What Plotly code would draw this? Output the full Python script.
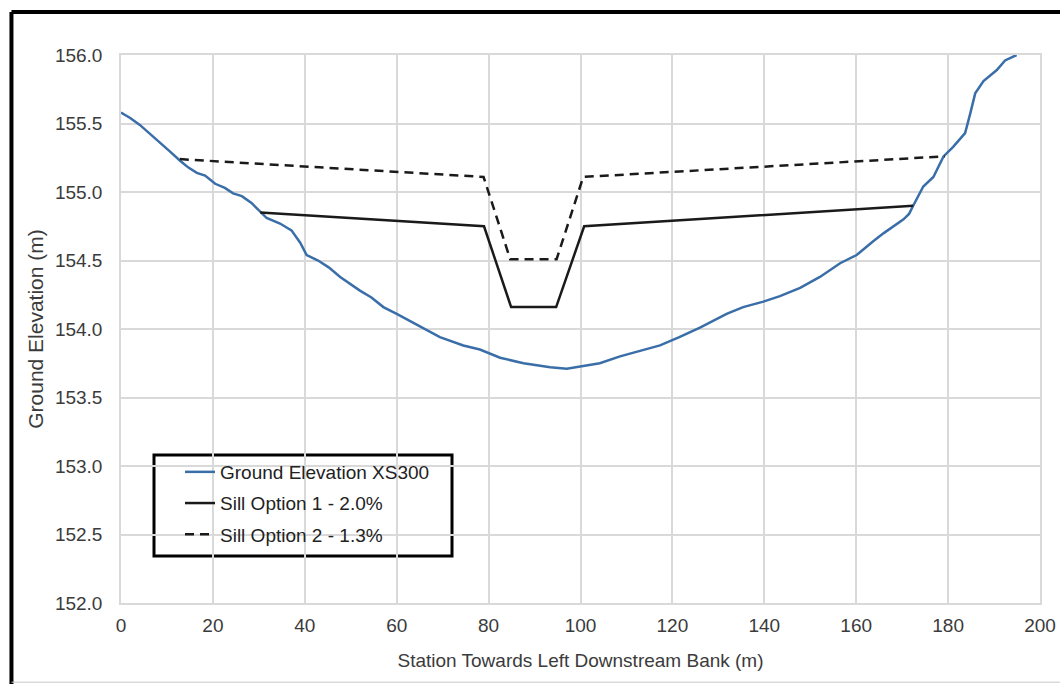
import plotly.graph_objects as go

# Ground survey along cross-section XS300
station = [0, 2.0, 4.1, 6.2, 8.1, 10.5, 12.8, 14.6, 16.5, 18.3, 20.5, 22.6, 24.4, 26.3,
           28.4, 30.3, 31.7, 34.6, 37.1, 39.0, 40.4, 42.9, 45.2, 47.7, 52.0, 54.5, 57.1,
           60.0, 64.4, 69.4, 74.5, 78.1, 82.5, 87.6, 93.4, 97.0, 100.6, 104.2, 108.6,
           113.0, 117.3, 121.5, 126.0, 131.8, 135.4, 139.8, 143.4, 147.8, 152.1, 156.5,
           160.1, 163.7, 166.0, 170.3, 171.5, 172.4, 174.6, 176.8, 179.0, 181.1, 183.7,
           184.8, 185.9, 187.7, 190.6, 192.4, 194.9]
ground = [155.58, 155.54, 155.49, 155.43, 155.37, 155.30, 155.23, 155.18, 155.14, 155.12,
          155.06, 155.03, 154.99, 154.97, 154.92, 154.86, 154.81, 154.77, 154.72, 154.63,
          154.54, 154.50, 154.45, 154.38, 154.28, 154.23, 154.16, 154.11, 154.03, 153.94,
          153.88, 153.85, 153.79, 153.75, 153.72, 153.71, 153.73, 153.75, 153.80, 153.84,
          153.88, 153.94, 154.01, 154.11, 154.16, 154.20, 154.24, 154.30, 154.38, 154.48,
          154.54, 154.64, 154.70, 154.80, 154.84, 154.90, 155.04, 155.11, 155.26, 155.33,
          155.43, 155.57, 155.72, 155.81, 155.89, 155.96, 156.00]

# Sill option 1 (2.0%)
sill1_x = [30.3, 79.0, 84.9, 94.7, 100.8, 172.4]
sill1_y = [154.85, 154.75, 154.16, 154.16, 154.75, 154.90]

# Sill option 2 (1.3%)
sill2_x = [12.8, 78.9, 84.7, 94.8, 100.6, 179.3]
sill2_y = [155.24, 155.11, 154.51, 154.51, 155.11, 155.26]

x_ticks = [0, 20, 40, 60, 80, 100, 120, 140, 160, 180, 200]
y_ticks = [152.0, 152.5, 153.0, 153.5, 154.0, 154.5, 155.0, 155.5, 156.0]

FONT = "Liberation Sans, Arial, sans-serif"
TEXT = "#3b3b3b"
GRID = "#d9d9d9"

fig = go.Figure()
fig.add_trace(go.Scatter(x=station, y=ground, mode="lines", name="Ground Elevation XS300",
                         legendgroup="g1", line=dict(color="#3a6ea8", width=2.5)))
fig.add_trace(go.Scatter(x=sill1_x, y=sill1_y, mode="lines", name="Sill Option 1 - 2.0%",
                         legendgroup="g2", line=dict(color="#1a1a1a", width=2.5)))
fig.add_trace(go.Scatter(x=sill2_x, y=sill2_y, mode="lines", name="Sill Option 2 - 1.3%",
                         legendgroup="g3", line=dict(color="#1a1a1a", width=2.5, dash="9px,6px")))

fig.update_layout(
    width=1060, height=684,
    margin=dict(l=121, r=20, t=55, b=81),
    paper_bgcolor="white", plot_bgcolor="white",
    font=dict(family=FONT, size=19, color=TEXT),
    showlegend=True,
    legend=dict(x=(180 - 121) / 919, y=(603 - 453) / 548, xanchor="left", yanchor="top",
                bgcolor="rgba(0,0,0,0)", borderwidth=0,
                font=dict(family=FONT, size=19, color="#222222"),
                tracegroupgap=3.5),
    xaxis=dict(range=[0, 200], tickvals=x_ticks, ticktext=[str(v) for v in x_ticks],
               showgrid=True, gridcolor=GRID, gridwidth=1.5,
               showline=True, linecolor=GRID, linewidth=1.5, mirror=True,
               zeroline=False, ticks="", ticklabelstandoff=4, automargin=False,
               tickfont=dict(size=19, color=TEXT),
               title=dict(text="Station Towards Left Downstream Bank (m)",
                          font=dict(size=19, color=TEXT), standoff=19)),
    yaxis=dict(range=[152, 156], tickvals=y_ticks, ticktext=[f"{v:.1f}" for v in y_ticks],
               showgrid=True, gridcolor=GRID, gridwidth=1.5,
               showline=True, linecolor=GRID, linewidth=1.5, mirror=True,
               zeroline=False, ticks="", ticklabelstandoff=13, automargin=False,
               tickfont=dict(size=19, color=TEXT),
               title=dict(text="Ground Elevation (m)",
                          font=dict(size=21, color=TEXT), standoff=6)),
)

# Legend frame
fig.add_shape(type="rect", xref="paper", yref="paper",
              x0=(154 - 121) / 919, x1=(452 - 121) / 919,
              y0=(603 - 556) / 548, y1=(603 - 455) / 548,
              line=dict(color="black", width=3), fillcolor="white", layer="below")

# Outer frame around the figure
fig.add_shape(type="line", xref="paper", yref="paper",
              x0=-0.1192, x1=1.03, y0=1.0785, y1=1.0785,
              line=dict(color="black", width=4))
fig.add_shape(type="line", xref="paper", yref="paper",
              x0=-0.1192, x1=-0.1192, y0=1.0785, y1=-0.16,
              line=dict(color="black", width=4))
fig.add_shape(type="line", xref="paper", yref="paper",
              x0=-0.1192, x1=1.03, y0=-0.1445, y1=-0.1445,
              line=dict(color="#c8c8c8", width=1))

fig.write_html("out.html")
